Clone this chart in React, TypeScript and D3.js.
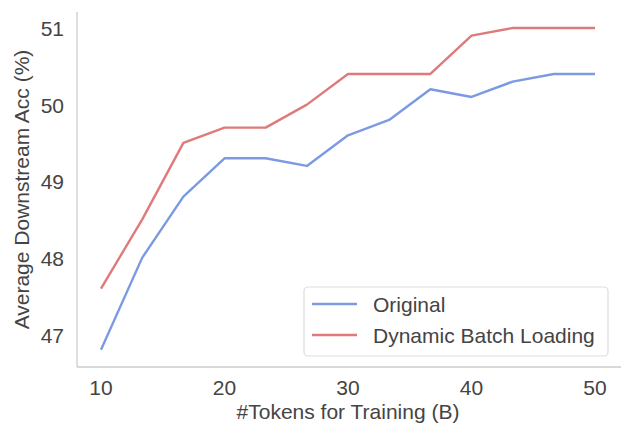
import React from "react";
import * as d3 from "d3";

const tokens = [10, 13.33, 16.67, 20, 23.33, 26.67, 30, 33.33, 36.67, 40, 43.33, 46.67, 50];
const original = [46.8, 48.0, 48.8, 49.3, 49.3, 49.2, 49.6, 49.8, 50.2, 50.1, 50.3, 50.4, 50.4];
const dynamic = [47.6, 48.5, 49.5, 49.7, 49.7, 50.0, 50.4, 50.4, 50.4, 50.9, 51.0, 51.0, 51.0];
const xTicks = [10, 20, 30, 40, 50];
const yTicks = [47, 48, 49, 50, 51];
const seriesNames = ["Original", "Dynamic Batch Loading"];
const colors = ["#7b9ae2", "#e07a7a"];

const W = 632, H = 439;
const left = 77, right = 621, top = 12, bottom = 367;
const font = "'Liberation Sans', Arial, sans-serif";
const textColor = "#444444";
const fs = 21;

export default function App() {
  const x = d3.scaleLinear().domain([10, 50]).range([101, 595]);
  const y = d3.scaleLinear().domain([47, 51]).range([334.5, 28]);
  const line = d3.line<number>().x((_, i) => x(tokens[i])).y((d) => y(d));
  const series = [original, dynamic];
  return (
    <svg width={W} height={H} style={{ position: "absolute", left: 0, top: 0, background: "#fff" }}>
      <rect width={W} height={H} fill="#fff" />
      <line x1={left} x2={left} y1={top} y2={bottom} stroke="#cccccc" strokeWidth={1.3} />
      <line x1={left} x2={right} y1={bottom} y2={bottom} stroke="#cccccc" strokeWidth={1.3} />
      {xTicks.map((t) => (
        <text key={t} x={x(t)} y={395} textAnchor="middle" fontFamily={font} fontSize={fs} fill={textColor}>{t}</text>
      ))}
      {yTicks.map((t) => (
        <text key={t} x={64} y={y(t) + 8} textAnchor="end" fontFamily={font} fontSize={fs} fill={textColor}>{t}</text>
      ))}
      <text x={348} y={419} textAnchor="middle" fontFamily={font} fontSize={fs} fill={textColor}>#Tokens for Training (B)</text>
      <text transform={`translate(29,${(top + bottom) / 2}) rotate(-90)`} textAnchor="middle" fontFamily={font} fontSize={fs} fill={textColor}>Average Downstream Acc (%)</text>
      {series.map((s, i) => (
        <path key={i} d={line(s) || ""} fill="none" stroke={colors[i]} strokeWidth={2.4} strokeLinejoin="round" />
      ))}
      <g>
        <rect x={304} y={287} width={304} height={69} rx={4} fill="#fff" fillOpacity={0.8} stroke="#dddddd" strokeWidth={1.2} />
        {seriesNames.map((n, i) => (
          <g key={n}>
            <line x1={312} x2={357} y1={304 + i * 31} y2={304 + i * 31} stroke={colors[i]} strokeWidth={2.4} />
            <text x={373} y={311.5 + i * 31} fontFamily={font} fontSize={fs} fill={textColor}>{n}</text>
          </g>
        ))}
      </g>
    </svg>
  );
}
